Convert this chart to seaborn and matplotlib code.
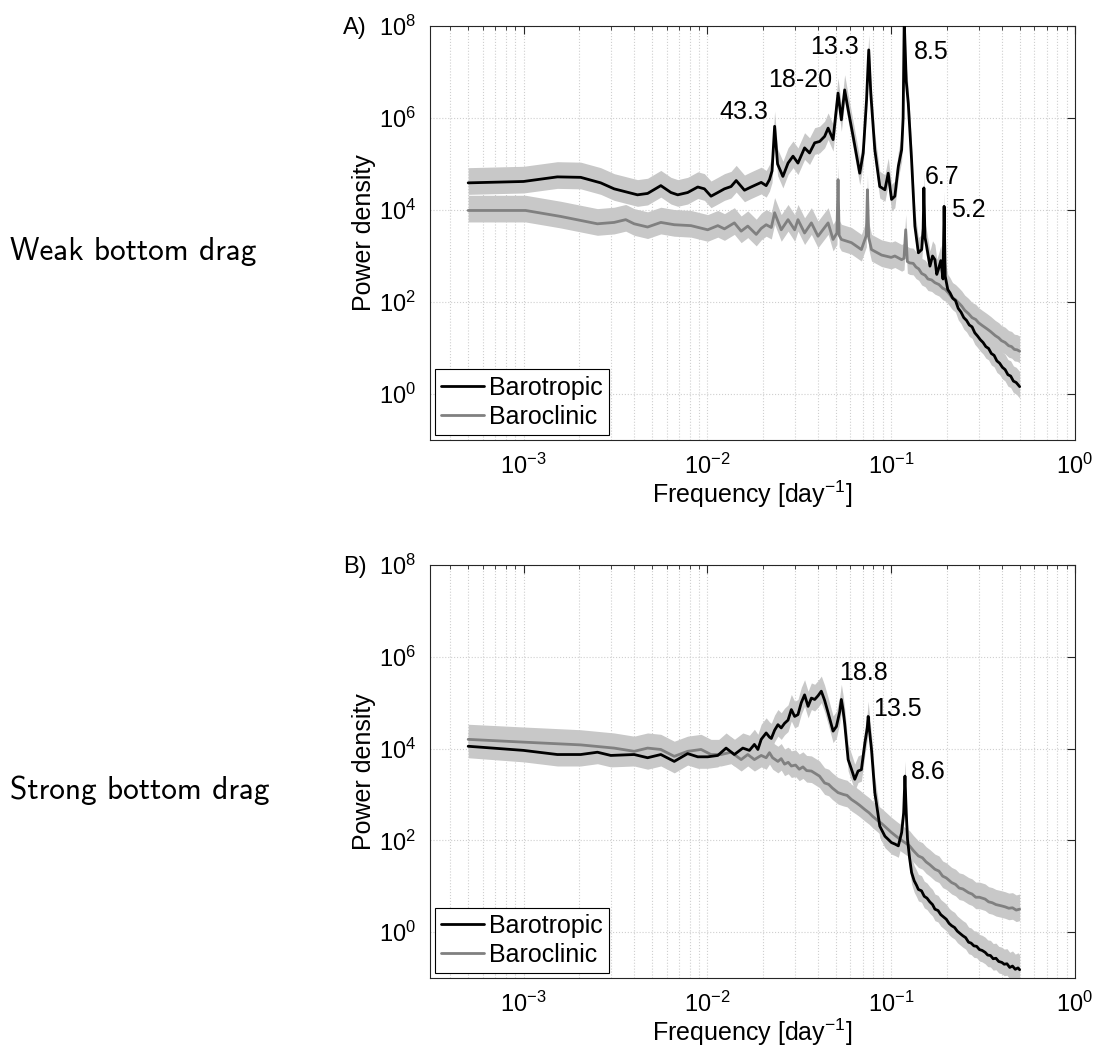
import numpy as np
import pandas as pd
import matplotlib
matplotlib.use("Agg")
import matplotlib.pyplot as plt
import seaborn as sns
from matplotlib.ticker import (LogLocator, NullLocator, FixedLocator, NullFormatter,
                               LogFormatterSciNotation)

# ---------------- data (log10 frequency [1/day], log10 power density) ----------------
# Panel A : weak bottom drag
freqA_baro_log = [-3.301, -3.0, -2.816, -2.689, -2.58, -2.507, -2.38, -2.325, -2.253, -2.198,
                  -2.161, -2.107, -2.052, -2.016, -1.98, -1.943, -1.907, -1.871, -1.843, -1.798,
                  -1.762, -1.707, -1.68, -1.662, -1.648, -1.634, -1.618, -1.589, -1.561, -1.534,
                  -1.507, -1.471, -1.444, -1.416, -1.389, -1.362, -1.343, -1.316, -1.289, -1.271,
                  -1.253, -1.234, -1.207, -1.171, -1.152, -1.134, -1.122, -1.111, -1.089, -1.062,
                  -1.034, -1.016, -0.998, -0.98, -0.961, -0.943, -0.935, -0.929, -0.918, -0.907,
                  -0.889, -0.871, -0.852, -0.834, -0.826, -0.822, -0.816, -0.807, -0.789, -0.775,
                  -0.762, -0.752, -0.743, -0.73, -0.718, -0.712, -0.706, -0.692, -0.68, -0.665,
                  -0.65, -0.635, -0.62, -0.605, -0.59, -0.575, -0.56, -0.545, -0.53, -0.515,
                  -0.5, -0.485, -0.47, -0.455, -0.44, -0.425, -0.41, -0.395, -0.38, -0.365,
                  -0.35, -0.335, -0.32, -0.301]
powerA_baro_log = [4.59, 4.62, 4.72, 4.71, 4.59, 4.46, 4.33, 4.36, 4.53, 4.38,
                   4.33, 4.38, 4.50, 4.46, 4.30, 4.38, 4.46, 4.51, 4.64, 4.43,
                   4.50, 4.60, 4.53, 4.66, 4.85, 5.82, 5.00, 4.73, 5.02, 5.17,
                   5.02, 5.35, 5.24, 5.46, 5.49, 5.60, 5.78, 5.53, 6.54, 5.96,
                   6.61, 6.18, 5.60, 4.80, 5.24, 6.39, 7.48, 6.54, 5.31, 4.51,
                   4.44, 4.80, 4.23, 4.30, 4.95, 5.31, 6.00, 8.13, 6.80, 6.32,
                   5.09, 3.65, 3.07, 3.14, 3.60, 4.48, 3.40, 3.21, 2.78, 3.00,
                   2.92, 2.60, 2.71, 2.90, 2.50, 4.08, 2.56, 2.27, 2.20, 2.08,
                   2.03, 1.86, 1.78, 1.66, 1.60, 1.50, 1.46, 1.33, 1.26, 1.18,
                   1.12, 1.03, 0.99, 0.88, 0.84, 0.72, 0.67, 0.58, 0.53, 0.42,
                   0.39, 0.28, 0.25, 0.16]

freqA_baroc_log = [-3.301, -2.989, -2.798, -2.598, -2.507, -2.444, -2.398, -2.325, -2.253, -2.18,
                   -2.089, -1.998, -1.943, -1.907, -1.853, -1.816, -1.78, -1.734, -1.707, -1.68,
                   -1.652, -1.634, -1.598, -1.561, -1.525, -1.507, -1.471, -1.434, -1.398, -1.343,
                   -1.316, -1.295, -1.289, -1.283, -1.271, -1.216, -1.162, -1.135, -1.129, -1.122,
                   -1.107, -1.052, -1.0, -0.98, -0.943, -0.93, -0.921, -0.912, -0.9, -0.88,
                   -0.865, -0.85, -0.834, -0.815, -0.8, -0.78, -0.762, -0.74, -0.72, -0.705,
                   -0.689, -0.67, -0.65, -0.63, -0.616, -0.6, -0.58, -0.56, -0.54, -0.525,
                   -0.505, -0.48, -0.46, -0.434, -0.415, -0.4, -0.38, -0.361, -0.345, -0.33,
                   -0.315, -0.301]
powerA_baroc_log = [3.99, 3.99, 3.86, 3.70, 3.73, 3.79, 3.70, 3.63, 3.73, 3.68,
                    3.66, 3.57, 3.66, 3.59, 3.72, 3.54, 3.65, 3.47, 3.60, 3.68,
                    3.62, 3.94, 3.57, 3.79, 3.57, 3.79, 3.50, 3.72, 3.43, 3.72,
                    3.36, 3.50, 4.66, 3.45, 3.36, 3.29, 3.14, 3.45, 4.44, 3.40,
                    3.14, 3.02, 2.97, 3.00, 2.92, 2.95, 3.57, 2.88, 2.85, 2.84,
                    2.76, 2.72, 2.62, 2.58, 2.50, 2.48, 2.42, 2.38, 2.30, 2.27,
                    2.20, 2.10, 2.05, 1.97, 1.91, 1.82, 1.75, 1.66, 1.62, 1.55,
                    1.49, 1.42, 1.36, 1.27, 1.22, 1.16, 1.12, 1.05, 1.03, 0.97,
                    0.96, 0.93]

# Panel B : strong bottom drag
freqB_baro_log = [-3.301, -3.0, -2.816, -2.689, -2.598, -2.525, -2.398, -2.325, -2.253, -2.18,
                  -2.107, -2.052, -1.998, -1.943, -1.898, -1.853, -1.807, -1.771, -1.744, -1.725,
                  -1.707, -1.68, -1.662, -1.652, -1.634, -1.616, -1.598, -1.58, -1.561, -1.543,
                  -1.525, -1.507, -1.489, -1.471, -1.452, -1.434, -1.416, -1.398, -1.38, -1.362,
                  -1.343, -1.316, -1.298, -1.28, -1.271, -1.262, -1.253, -1.234, -1.216, -1.198,
                  -1.18, -1.162, -1.143, -1.13, -1.125, -1.117, -1.107, -1.089, -1.062, -1.034,
                  -1.016, -0.998, -0.98, -0.961, -0.943, -0.932, -0.925, -0.918, -0.911, -0.9,
                  -0.889, -0.875, -0.862, -0.852, -0.835, -0.82, -0.805, -0.79, -0.775, -0.762,
                  -0.745, -0.73, -0.715, -0.7, -0.685, -0.671, -0.655, -0.64, -0.625, -0.61,
                  -0.595, -0.579, -0.565, -0.55, -0.535, -0.52, -0.505, -0.489, -0.475, -0.46,
                  -0.445, -0.43, -0.415, -0.398, -0.385, -0.37, -0.355, -0.34, -0.325, -0.31,
                  -0.301]
powerB_baro_log = [4.05, 3.96, 3.87, 3.87, 3.92, 3.85, 3.87, 3.80, 3.87, 3.72,
                   3.89, 3.82, 3.82, 3.85, 4.01, 3.87, 4.01, 3.96, 4.09, 3.98,
                   4.20, 4.34, 4.25, 4.22, 4.40, 4.52, 4.45, 4.55, 4.62, 4.85,
                   4.70, 4.74, 5.00, 5.17, 4.92, 5.10, 5.07, 5.15, 5.25, 5.05,
                   4.78, 4.38, 4.48, 4.80, 5.07, 4.85, 4.55, 3.76, 3.55, 3.33,
                   3.51, 3.54, 4.12, 4.45, 4.70, 4.35, 3.98, 3.04, 2.31, 2.09,
                   2.02, 1.95, 1.92, 1.88, 2.17, 2.60, 3.40, 2.60, 2.02, 1.62,
                   1.30, 1.12, 1.02, 0.93, 0.90, 0.78, 0.74, 0.66, 0.60, 0.50,
                   0.47, 0.38, 0.33, 0.28, 0.19, 0.14, 0.10, 0.02, -0.03, -0.08,
                   -0.12, -0.22, -0.24, -0.30, -0.31, -0.38, -0.40, -0.44, -0.50, -0.51,
                   -0.58, -0.57, -0.64, -0.66, -0.70, -0.69, -0.77, -0.74, -0.81, -0.78,
                   -0.82]

freqB_baroc_log = [-3.301, -3.0, -2.689, -2.507, -2.398, -2.325, -2.253, -2.18, -2.107, -2.034,
                   -1.98, -1.925, -1.871, -1.816, -1.78, -1.744, -1.707, -1.68, -1.662, -1.645,
                   -1.616, -1.598, -1.58, -1.56, -1.543, -1.52, -1.5, -1.48, -1.46, -1.434,
                   -1.41, -1.39, -1.362, -1.34, -1.32, -1.289, -1.26, -1.24, -1.216, -1.19,
                   -1.17, -1.143, -1.12, -1.1, -1.07, -1.05, -1.02, -0.998, -0.97, -0.95,
                   -0.925, -0.9, -0.88, -0.852, -0.83, -0.81, -0.79, -0.762, -0.74, -0.72,
                   -0.7, -0.671, -0.65, -0.63, -0.61, -0.579, -0.56, -0.54, -0.52, -0.489,
                   -0.47, -0.45, -0.43, -0.398, -0.38, -0.36, -0.34, -0.32, -0.301]
powerB_baroc_log = [4.20, 4.14, 4.08, 4.01, 3.94, 4.01, 3.98, 3.83, 3.94, 3.98,
                    3.87, 3.87, 3.92, 3.76, 3.87, 3.76, 3.85, 3.80, 3.91, 3.80,
                    3.72, 3.78, 3.66, 3.70, 3.62, 3.64, 3.55, 3.60, 3.52, 3.51,
                    3.45, 3.40, 3.25, 3.22, 3.14, 3.04, 3.00, 2.98, 2.89, 2.82,
                    2.76, 2.67, 2.60, 2.52, 2.42, 2.36, 2.25, 2.17, 2.08, 2.02,
                    1.95, 1.88, 1.78, 1.66, 1.62, 1.53, 1.47, 1.37, 1.33, 1.22,
                    1.18, 1.08, 1.04, 0.96, 0.94, 0.86, 0.83, 0.76, 0.76, 0.72,
                    0.66, 0.64, 0.60, 0.57, 0.55, 0.52, 0.53, 0.48, 0.50]

# confidence band half-widths (log10 units, above / below the estimate)
ci_upper_log = 0.33
ci_lower_log = 0.25

series_labels = ["Barotropic", "Baroclinic"]
panel_tags = ["A)", "B)"]
row_labels = ["Weak bottom drag", "Strong bottom drag"]

# peak annotations (period in days) : text, log10 f, log10 P
peaksA_text = ["43.3", "18-20", "13.3", "8.5", "6.7", "5.2"]
peaksA_x = [-1.800, -1.494, -1.309, -0.780, -0.725, -0.578]
peaksA_y = [6.13, 6.83, 7.54, 7.44, 4.72, 4.01]
peaksB_text = ["18.8", "13.5", "8.6"]
peaksB_x = [-1.149, -0.965, -0.796]
peaksB_y = [5.65, 4.86, 3.49]

xtick_vals = [1e-3, 1e-2, 1e-1, 1e0]
ytick_vals = [1e0, 1e2, 1e4, 1e6, 1e8]

# ---------------- style ----------------
sns.set_style("white")
plt.rcParams["font.family"] = ["Liberation Sans", "DejaVu Sans"]
plt.rcParams["mathtext.fontset"] = "custom"
plt.rcParams["mathtext.rm"] = "Liberation Sans"
plt.rcParams["mathtext.it"] = "Liberation Sans"
plt.rcParams["mathtext.default"] = "regular"
plt.rcParams["text.color"] = "black"
plt.rcParams["axes.labelcolor"] = "black"
plt.rcParams["xtick.color"] = "black"
plt.rcParams["ytick.color"] = "black"

W, H = 1097, 1064
fig = plt.figure(figsize=(W / 100, H / 100), dpi=100)
axA = fig.add_axes([430 / W, 1 - 440 / H, 645 / W, 414 / H])
axB = fig.add_axes([430 / W, 1 - 978 / H, 645 / W, 413 / H])

BLACK = "#000000"
GREY = "#808080"
BAND = "#c8c8c8"


def make_df(flog, plog):
    plog = np.asarray(plog)
    return pd.DataFrame({"freq": 10 ** np.asarray(flog), "power": 10 ** plog,
                         "lo": 10 ** (plog - ci_lower_log),
                         "hi": 10 ** (plog + ci_upper_log)})


panels = [
    (axA, make_df(freqA_baro_log, powerA_baro_log), make_df(freqA_baroc_log, powerA_baroc_log),
     peaksA_text, peaksA_x, peaksA_y, panel_tags[0], row_labels[0], 28),
    (axB, make_df(freqB_baro_log, powerB_baro_log), make_df(freqB_baroc_log, powerB_baroc_log),
     peaksB_text, peaksB_x, peaksB_y, panel_tags[1], row_labels[1], 567),
]

for ax, dfb, dfc, ptxt, px, py, tag, rlabel, tag_y in panels:
    ax.fill_between(dfb["freq"], dfb["lo"], dfb["hi"], color=BAND, lw=0, zorder=1)
    ax.fill_between(dfc["freq"], dfc["lo"], dfc["hi"], color=BAND, lw=0, zorder=1)
    sns.lineplot(data=dfb, x="freq", y="power", ax=ax, color=BLACK, lw=2.0,
                 label=series_labels[0], zorder=4, sort=False)
    sns.lineplot(data=dfc, x="freq", y="power", ax=ax, color=GREY, lw=2.0,
                 label=series_labels[1], zorder=3, sort=False)
    ax.set_xscale("log")
    ax.set_yscale("log")
    ax.set_xlim(3.1e-4, 1.0)
    ax.set_ylim(1e-1, 1e8)
    ax.xaxis.set_major_locator(FixedLocator(xtick_vals))
    ax.xaxis.set_minor_locator(LogLocator(base=10, subs=np.arange(2, 10)))
    ax.xaxis.set_minor_formatter(NullFormatter())
    ax.yaxis.set_major_locator(FixedLocator(ytick_vals))
    ax.yaxis.set_minor_locator(NullLocator())
    ax.xaxis.set_major_formatter(LogFormatterSciNotation())
    ax.yaxis.set_major_formatter(LogFormatterSciNotation())
    ax.grid(True, which="major", axis="both", color="#cfcfcf", ls=":", lw=0.8)
    ax.grid(True, which="minor", axis="x", color="#cfcfcf", ls=":", lw=0.8)
    ax.tick_params(which="both", direction="in", top=True, right=True, colors="#262626",
                   labelcolor="black")
    ax.tick_params(which="major", length=6, width=0.8, labelsize=17, pad=10)
    ax.tick_params(which="minor", length=3, width=0.6)
    for s in ax.spines.values():
        s.set_color("#262626")
        s.set_linewidth(0.8)
    ax.set_xlabel("Frequency [day$^{-1}$]", fontsize=18, labelpad=0, color="black")
    ax.set_ylabel("Power density", fontsize=18, labelpad=2, color="black")
    for t, xx, yy in zip(ptxt, px, py):
        ax.text(10 ** xx, 10 ** yy, t, fontsize=18, ha="center", va="center", zorder=6,
                color="black")
    leg = ax.legend(loc="lower left", fontsize=18, frameon=True, fancybox=False,
                    edgecolor="black", framealpha=1, borderaxespad=0.2, borderpad=0.25,
                    handlelength=1.7, handletextpad=0.2, labelspacing=0.2)
    leg.get_frame().set_linewidth(0.8)
    for txt in leg.get_texts():
        txt.set_color("black")
    for h in leg.get_lines():
        h.set_linewidth(2.0)
    bb = ax.get_position()
    fig.text(343 / W, 1 - tag_y / H, tag, fontsize=17, ha="left", va="center", color="black")
    fig.text(10 / W, bb.y0 + bb.height * 0.455, rlabel, fontsize=22.5, ha="left", va="center",
             family=["cmss10", "DejaVu Sans"], color="black")

fig.savefig("out.png", dpi=100)
